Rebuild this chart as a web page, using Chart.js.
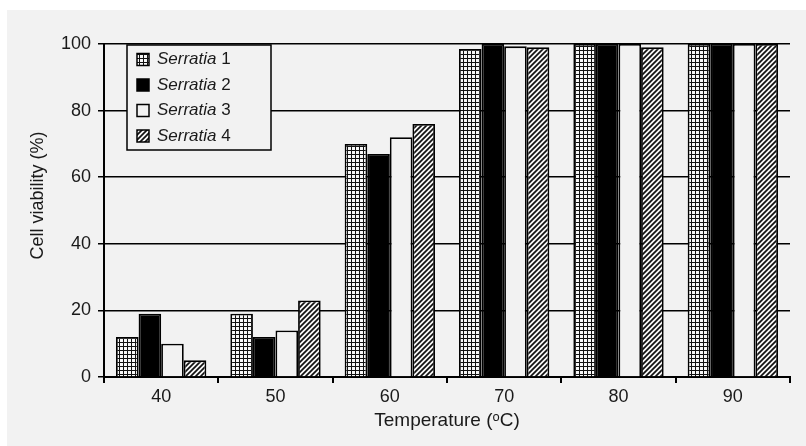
<!DOCTYPE html>
<html>
<head>
<meta charset="utf-8">
<script src="https://cdn.jsdelivr.net/npm/chart.js@4/dist/chart.umd.min.js"></script>
<style>
  html, body { margin: 0; padding: 0; background: #ffffff; }
  #panel { position: absolute; left: 7px; top: 10px; width: 799px; height: 436px; background: #f2f2f2; }
  canvas { display: block; }
</style>
</head>
<body>
<div id="panel"><canvas id="c" width="799" height="436"></canvas></div>
<script>
// ---- data ----
const categories = ['40', '50', '60', '70', '80', '90'];
const seriesNames = ['1', '2', '3', '4'];
const serratia1 = [12, 19, 70, 98.5, 100, 100];
const serratia2 = [19, 12, 67, 100, 100, 100];
const serratia3 = [10, 14, 72, 99.3, 100, 100];
const serratia4 = [5, 23, 76, 99, 99, 100];
const yTicks = [0, 20, 40, 60, 80, 100];
const xTitle = 'Temperature (\u1D52C)';
const yTitle = '      Cell viability (%)';

const BG = '#f2f2f2';
const INK = '#1a1a1a';
const FONT = '"Liberation Sans", Arial, sans-serif';

function gridPattern() {
  const c = document.createElement('canvas');
  c.width = 4; c.height = 4;
  const g = c.getContext('2d');
  g.fillStyle = '#f7f7f7';
  g.fillRect(0, 0, 4, 4);
  g.fillStyle = '#111';
  g.fillRect(0, 0, 4, 1);
  g.fillRect(0, 0, 1, 4);
  return g.createPattern(c, 'repeat');
}
function hatchPattern() {
  const s = 5;
  const c = document.createElement('canvas');
  c.width = s; c.height = s;
  const g = c.getContext('2d');
  g.fillStyle = '#f7f7f7';
  g.fillRect(0, 0, s, s);
  g.strokeStyle = '#111';
  g.lineWidth = 1.7;
  g.beginPath();
  g.moveTo(-1, s + 1); g.lineTo(s + 1, -1);
  g.moveTo(-1, 1); g.lineTo(1, -1);
  g.moveTo(s - 1, s + 1); g.lineTo(s + 1, s - 1);
  g.stroke();
  return g.createPattern(c, 'repeat');
}

const fills = [gridPattern(), '#000000', BG, hatchPattern()];
const seriesData = [serratia1, serratia2, serratia3, serratia4];

const datasets = seriesData.map((d, i) => ({
  label: 'Serratia ' + seriesNames[i],
  data: d,
  backgroundColor: fills[i],
  borderColor: '#000',
  borderWidth: 1.8,
  categoryPercentage: 0.79,
  barPercentage: 1.0
}));

const legendPlugin = {
  id: 'insideLegend',
  afterDraw(chart) {
    const ctx = chart.ctx;
    const x0 = 120, y0 = 35, w = 144, h = 105;
    ctx.save();
    ctx.fillStyle = BG;
    ctx.fillRect(x0, y0, w, h);
    ctx.strokeStyle = '#000';
    ctx.lineWidth = 1.5;
    ctx.strokeRect(x0, y0, w, h);
    chart.data.datasets.forEach((ds, i) => {
      const cy = y0 + 14.5 + i * 25.5;
      ctx.fillStyle = ds.backgroundColor;
      ctx.fillRect(x0 + 10, cy - 6, 12, 12);
      ctx.lineWidth = 1.5;
      ctx.strokeStyle = '#000';
      ctx.strokeRect(x0 + 10, cy - 6, 12, 12);
      ctx.fillStyle = INK;
      ctx.textBaseline = 'middle';
      ctx.textAlign = 'left';
      ctx.font = 'italic 17px ' + FONT;
      const tx = x0 + 30;
      ctx.fillText('Serratia', tx, cy);
      const wI = ctx.measureText('Serratia').width;
      ctx.font = '17px ' + FONT;
      ctx.fillText(' ' + seriesNames[i], tx + wI, cy);
    });
    ctx.restore();
  }
};

new Chart(document.getElementById('c'), {
  type: 'bar',
  data: { labels: categories, datasets },
  plugins: [legendPlugin],
  options: {
    responsive: false,
    animation: false,
    devicePixelRatio: window.devicePixelRatio || 1,
    layout: { padding: { top: 34, right: 16, left: 0, bottom: 0 } },
    plugins: { legend: { display: false }, tooltip: { enabled: false } },
    scales: {
      x: {
        afterFit(s) { s.height = 69; },
        grid: { display: true, offset: true, drawOnChartArea: false, drawTicks: true, tickLength: 6, color: '#000', lineWidth: 2 },
        border: { display: true, color: '#000', width: 2 },
        ticks: { color: INK, font: { family: FONT, size: 18 }, padding: 3 },
        title: { display: true, text: xTitle, color: INK, font: { family: FONT, size: 19 }, padding: { top: 0, bottom: 14 } }
      },
      y: {
        min: 0, max: 100,
        afterFit(s) { s.width = 97; },
        afterBuildTicks(s) { s.ticks = yTicks.map(v => ({ value: v })); },
        grid: { color: '#000', lineWidth: 1.5, drawTicks: true, tickLength: 6 },
        border: { display: true, color: '#000', width: 2 },
        ticks: { color: INK, font: { family: FONT, size: 18 }, padding: 7 },
        title: { display: true, text: yTitle, color: INK, font: { family: FONT, size: 18 }, padding: { top: 20, bottom: 0 } }
      }
    }
  }
});
</script>
</body>
</html>
